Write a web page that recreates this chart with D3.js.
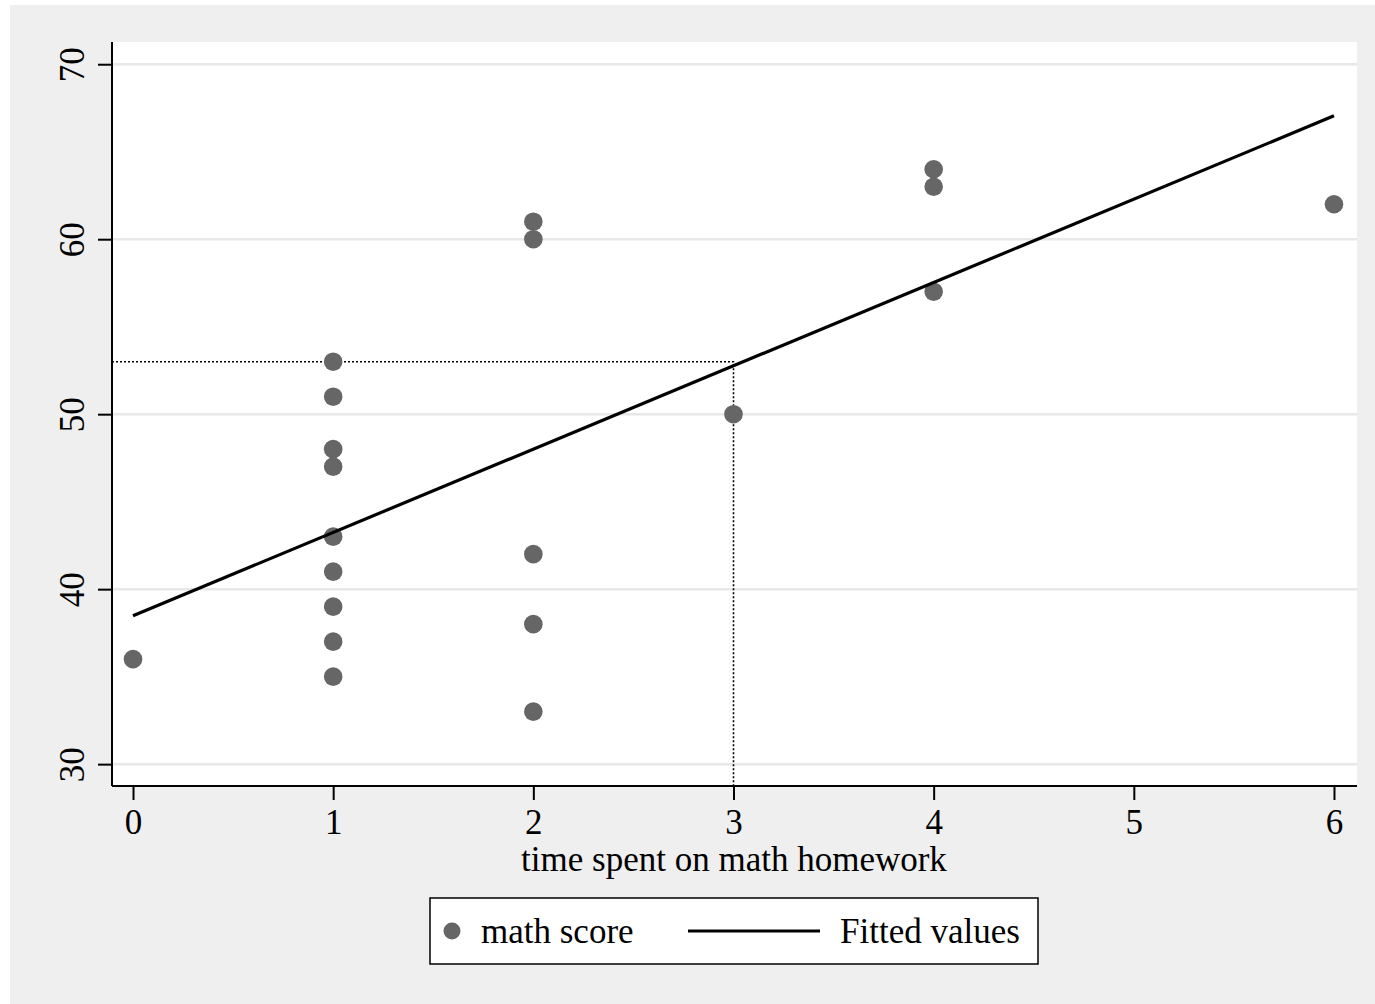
<!DOCTYPE html>
<html>
<head>
<meta charset="utf-8">
<script src="https://cdn.jsdelivr.net/npm/d3@7"></script>
<style>
  body { margin: 0; background: #ffffff; }
  text { font-family: "Liberation Serif", "DejaVu Serif", serif; fill: #000; }
</style>
</head>
<body>
<svg id="chart" width="1375" height="1004"></svg>
<script>
// homework hours and math scores
const hours  = [0, 1, 1, 1, 1, 1, 1, 1, 1, 1, 2, 2, 2, 2, 2, 3, 4, 4, 4, 6];
const scores = [36, 53, 51, 48, 47, 43, 41, 39, 37, 35, 61, 60, 42, 38, 33, 50, 64, 63, 57, 62];

// fitted line end points
const fitX = [0, 6];
const fitY = [38.48, 67.05];

// reference guide at x = 3
const guideX = 3;
const guideY = 53;

const xTicks = [0, 1, 2, 3, 4, 5, 6];
const yTicks = [30, 40, 50, 60, 70];

const svg = d3.select("#chart");
const margin = { top: 42, right: 18, bottom: 218, left: 112 };
const width = 1375 - margin.left - margin.right;
const height = 1004 - margin.top - margin.bottom;

// outer grey background
svg.append("rect")
    .attr("x", 10).attr("y", 5)
    .attr("width", 1365).attr("height", 999)
    .attr("fill", "#efefef");

const chart = svg.append("g")
    .attr("transform", `translate(${margin.left}, ${margin.top})`);

chart.append("rect")
    .attr("width", width).attr("height", height)
    .attr("fill", "#fff");

const x = d3.scaleLinear().domain([-0.105, 6.115]).range([0, width]);
const y = d3.scaleLinear().domain([28.75, 71.27]).range([height, 0]);

// grid
chart.append("g")
    .selectAll("line")
    .data(yTicks)
    .join("line")
    .attr("x1", 0).attr("x2", width)
    .attr("y1", d => y(d)).attr("y2", d => y(d))
    .attr("stroke", "#e8e8e8")
    .attr("stroke-width", 2.5);

// dotted guide lines
chart.append("path")
    .attr("d", `M0,${y(guideY)}H${x(guideX)}V${height}`)
    .attr("fill", "none")
    .attr("stroke", "#000")
    .attr("stroke-width", 1.6)
    .attr("stroke-dasharray", "2,2");

// points
chart.append("g")
    .selectAll("circle")
    .data(hours.map((h, i) => ({ h, s: scores[i] })))
    .join("circle")
    .attr("cx", d => x(d.h))
    .attr("cy", d => y(d.s))
    .attr("r", 9.3)
    .attr("fill", "#666666");

// fitted line
chart.append("path")
    .datum(fitX.map((v, i) => [v, fitY[i]]))
    .attr("d", d3.line().x(d => x(d[0])).y(d => y(d[1])))
    .attr("fill", "none")
    .attr("stroke", "#000")
    .attr("stroke-width", 3.2);

// axes
const xAxis = chart.append("g")
    .attr("transform", `translate(0, ${height})`)
    .call(d3.axisBottom(x).tickValues(xTicks).tickSize(14).tickPadding(9).tickFormat(d3.format("d")));
xAxis.select(".domain").attr("d", `M0,0H${width}`).attr("stroke-width", 2);
xAxis.selectAll(".tick line").attr("stroke-width", 2);
xAxis.selectAll("text").attr("font-size", 35).attr("font-family", "Liberation Serif");

const yAxis = chart.append("g")
    .call(d3.axisLeft(y).tickValues(yTicks).tickSize(14).tickPadding(10));
yAxis.select(".domain").attr("d", `M0,0V${height}`).attr("stroke-width", 2);
yAxis.selectAll(".tick line").attr("stroke-width", 2);
yAxis.selectAll("text")
    .attr("font-size", 35)
    .attr("font-family", "Liberation Serif")
    .attr("text-anchor", "middle")
    .attr("dy", null)
    .attr("x", null)
    .attr("transform", "translate(-28,0) rotate(-90)")
    .attr("y", 0);

// x label
svg.append("text")
    .attr("x", 734).attr("y", 871)
    .attr("text-anchor", "middle")
    .attr("font-size", 35)
    .text("time spent on math homework");

// legend
const legend = svg.append("g");
legend.append("rect")
    .attr("x", 430).attr("y", 898)
    .attr("width", 608).attr("height", 66)
    .attr("fill", "#fff")
    .attr("stroke", "#000")
    .attr("stroke-width", 1.5);
legend.append("circle")
    .attr("cx", 452).attr("cy", 931).attr("r", 8.5)
    .attr("fill", "#666666");
legend.append("text")
    .attr("x", 481).attr("y", 943)
    .attr("font-size", 35)
    .text("math score");
legend.append("line")
    .attr("x1", 688).attr("x2", 820)
    .attr("y1", 931).attr("y2", 931)
    .attr("stroke", "#000").attr("stroke-width", 3);
legend.append("text")
    .attr("x", 840).attr("y", 943)
    .attr("font-size", 35)
    .text("Fitted values");
</script>
</body>
</html>
